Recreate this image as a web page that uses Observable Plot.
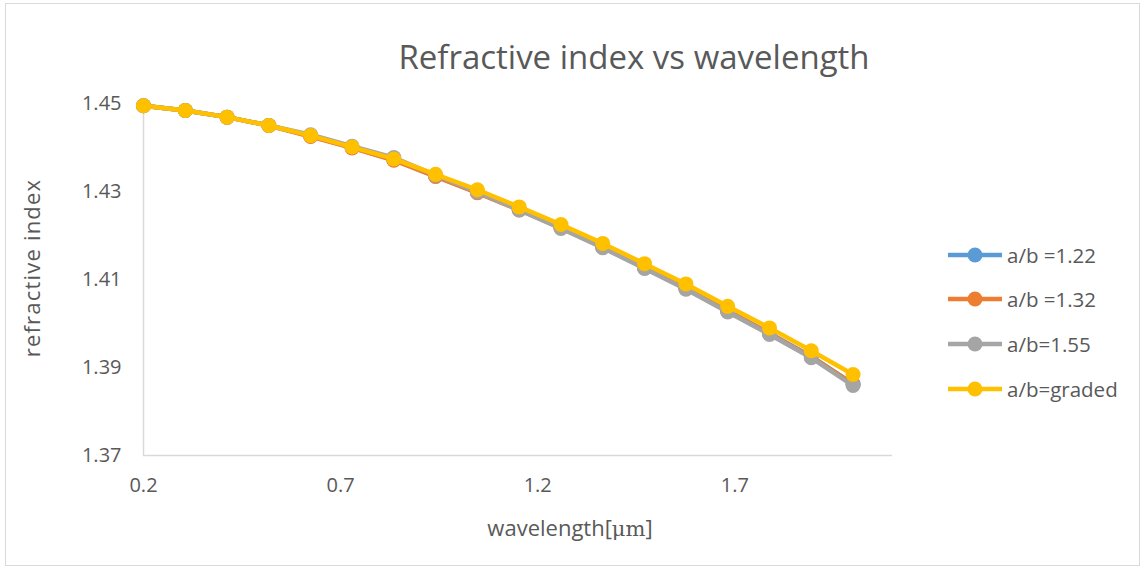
<!DOCTYPE html>
<html>
<head>
<meta charset="utf-8">
<script src="https://cdn.jsdelivr.net/npm/d3@7"></script>
<script src="https://cdn.jsdelivr.net/npm/@observablehq/plot@0.6"></script>
<style>
  html, body { margin: 0; padding: 0; background: #fff; }
  #chart { position: relative; width: 1146px; height: 571px; font-family: "Open Sans", sans-serif; color: #595959; }
  #frame { position: absolute; left: 5px; top: 3px; width: 1135px; height: 563px; border: 1px solid #d9d9d9; box-sizing: border-box; }
  #title { position: absolute; left: 0; width: 1268px; top: 36px; text-align: center; font-size: 33px; line-height: 42px; }
  #ytitle { position: absolute; left: 31px; top: 268px; transform: translate(-50%, -50%) rotate(-90deg); font-size: 22px; letter-spacing: 1.2px; white-space: nowrap; }
  #xtitle { position: absolute; left: 570px; top: 527px; transform: translate(-50%, -50%); font-size: 22px; white-space: nowrap; }
  #xtitle .unit { font-family: "DejaVu Serif", "Liberation Serif", serif; font-size: 21px; }
  #legend { position: absolute; left: 947px; top: 0; }
  .item { position: absolute; left: 0; display: flex; align-items: center; font-size: 20.5px; white-space: nowrap; transform: translateY(-50%); }
  .item svg { margin-right: 4px; }
  #plot { position: absolute; left: 0; top: 0; }
</style>
</head>
<body>
<div id="chart">
  <div id="frame"></div>
  <div id="plot"></div>
  <div id="title">Refractive index vs wavelength</div>
  <div id="ytitle">refractive index</div>
  <div id="xtitle">wavelength[<span class="unit">μm</span>]</div>
  <div id="legend"></div>
</div>
<script>
// Wavelength samples (μm)
const wavelength = [0.2, 0.306, 0.412, 0.518, 0.624, 0.729, 0.835, 0.941, 1.047, 1.153, 1.259, 1.365, 1.471, 1.576, 1.682, 1.788, 1.894, 2.0];

// Refractive index for each a/b ratio
const n122 = [1.4495, 1.4484, 1.4469, 1.4450, 1.4426, 1.4400, 1.4372, 1.4335, 1.4298, 1.4259, 1.4218, 1.4174, 1.4127, 1.4080, 1.4029, 1.3978, 1.3925, 1.3863];
const n132 = [1.4495, 1.4484, 1.4469, 1.4450, 1.4425, 1.4399, 1.4371, 1.4334, 1.4297, 1.4258, 1.4217, 1.4173, 1.4126, 1.4079, 1.4028, 1.3977, 1.3924, 1.3862];
const n155 = [1.4495, 1.4484, 1.4469, 1.4450, 1.4429, 1.4403, 1.4377, 1.4337, 1.4299, 1.4258, 1.4216, 1.4172, 1.4125, 1.4078, 1.4026, 1.3975, 1.3922, 1.3859];
const nGraded = [1.4495, 1.4484, 1.4469, 1.4450, 1.4427, 1.4401, 1.4374, 1.4339, 1.4304, 1.4265, 1.4225, 1.4182, 1.4136, 1.4090, 1.4039, 1.3990, 1.3938, 1.3884];

const seriesNames = ["a/b =1.22", "a/b =1.32", "a/b=1.55", "a/b=graded"];
const seriesValues = [n122, n132, n155, nGraded];
const seriesColors = ["#5B9BD5", "#ED7D31", "#A5A5A5", "#FFC000"];

// Axis ticks
const xTicks = [0.2, 0.7, 1.2, 1.7];
const yTicks = [1.37, 1.39, 1.41, 1.43, 1.45];

// Long-format rows for the marks
const rows = seriesNames.flatMap((name, s) =>
  wavelength.map((w, i) => ({series: name, wavelength: w, index: seriesValues[s][i]}))
);

// Each series draws its line then its markers, in legend order
const seriesMarks = seriesNames.flatMap(name => {
  const data = rows.filter(d => d.series === name);
  return [
    Plot.line(data, {x: "wavelength", y: "index", stroke: "series", strokeWidth: 4.5, strokeLinejoin: "round", strokeLinecap: "round"}),
    Plot.dot(data, {x: "wavelength", y: "index", fill: "series", r: 7.5, stroke: "none"})
  ];
});

const plot = Plot.plot({
  width: 1146,
  height: 571,
  marginLeft: 143,
  marginRight: 254,
  marginTop: 103,
  marginBottom: 116,
  style: {fontFamily: "Open Sans, sans-serif", color: "#595959", background: "transparent"},
  x: {domain: [0.2, 2.1]},
  y: {domain: [1.37, 1.45]},
  color: {domain: seriesNames, range: seriesColors},
  marks: [
    Plot.axisX({ticks: xTicks, tickFormat: d3.format(".1f"), tickSize: 0, tickPadding: 22, fontSize: 20, label: null}),
    Plot.axisY({ticks: yTicks, tickFormat: d3.format(".2f"), tickSize: 0, tickPadding: 22, fontSize: 20, label: null}),
    Plot.ruleY([1.37], {stroke: "#d9d9d9", strokeWidth: 1.5}),
    Plot.ruleX([0.2], {stroke: "#d9d9d9", strokeWidth: 1.5}),
    ...seriesMarks
  ]
});
document.getElementById("plot").appendChild(plot);

// Legend: line with a marker, then the series name
const legend = document.getElementById("legend");
const legendY = [255, 299, 344, 389];
seriesNames.forEach((name, i) => {
  const item = document.createElement("div");
  item.className = "item";
  item.style.top = legendY[i] + "px";
  item.innerHTML =
    `<svg width="56" height="18"><line x1="1" y1="9" x2="55" y2="9" stroke="${seriesColors[i]}" stroke-width="4.5"/>` +
    `<circle cx="28" cy="9" r="7.5" fill="${seriesColors[i]}"/></svg><span>${name}</span>`;
  legend.appendChild(item);
});
</script>
</body>
</html>
